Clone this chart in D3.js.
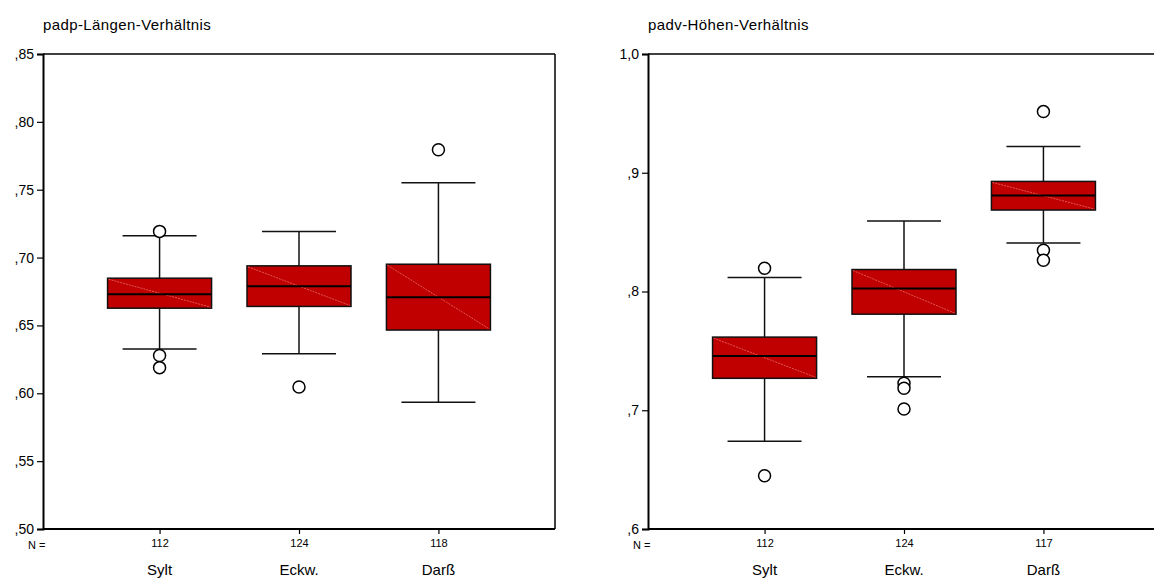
<!DOCTYPE html>
<html>
<head>
<meta charset="utf-8">
<script src="https://cdn.jsdelivr.net/npm/d3@7"></script>
<style>
  body { margin: 0; background: #fff; }
  svg { display: block; font-family: "Liberation Sans", Arial, sans-serif; }
</style>
</head>
<body>
<svg width="1154" height="579"></svg>
<script>
// categories and sample sizes
const categories = ["Sylt", "Eckw.", "Darß"];
const countsLaenge = [112, 124, 118];
const countsHoehe = [112, 124, 117];

// padp-Längen-Verhältnis
const laengeLow = [0.6326, 0.6292, 0.5934];
const laengeQ1 = [0.6627, 0.6640, 0.6466];
const laengeMedian = [0.6730, 0.6789, 0.6708];
const laengeQ3 = [0.6848, 0.6939, 0.6951];
const laengeHigh = [0.7160, 0.7193, 0.7551];
const laengeOutliers = [[0.7193, 0.6279, 0.6189], [0.6046], [0.7794]];
const laengeTicks = [0.50, 0.55, 0.60, 0.65, 0.70, 0.75, 0.80, 0.85];

// padv-Höhen-Verhältnis
const hoeheLow = [0.6740, 0.7282, 0.8408];
const hoeheQ1 = [0.7269, 0.7809, 0.8686];
const hoeheMedian = [0.7456, 0.8025, 0.8809];
const hoeheQ3 = [0.7616, 0.8185, 0.8927];
const hoeheHigh = [0.8118, 0.8593, 0.9221];
const hoeheOutliers = [[0.8196, 0.6448], [0.7227, 0.7185, 0.7011], [0.9515, 0.8347, 0.8263]];
const hoeheTicks = [0.6, 0.7, 0.8, 0.9, 1.0];

document.addEventListener('DOMContentLoaded', () => {
    const svg = d3.select("svg");

    // SPSS style: ",85" / "1,0"
    const fmt2 = v => d3.format(".2f")(v).replace("0.", ",");
    const fmt1 = v => v >= 1 ? d3.format(".1f")(v).replace(".", ",") : d3.format(".1f")(v).replace("0.", ",");

    function drawPanel(opt) {
        const g = svg.append("g");
        const left = opt.left, right = opt.left + 512, top = 54, bottom = 529;

        const x = d3.scalePoint().domain(categories).range([left, right]).padding(0.836);
        const y = d3.scaleLinear().domain(opt.domain).range([bottom, top]);

        // title
        g.append("text")
            .attr("x", left)
            .attr("y", 30)
            .attr("font-size", 15)
            .attr("letter-spacing", 0.4)
            .text(opt.title);

        // frame
        g.append("line").attr("x1", left).attr("x2", right).attr("y1", top).attr("y2", top)
            .attr("stroke", "#000").attr("stroke-width", 1.5);
        g.append("line").attr("x1", right).attr("x2", right).attr("y1", top).attr("y2", bottom)
            .attr("stroke", "#000").attr("stroke-width", 1.5);

        // y axis
        const yAxis = d3.axisLeft(y).tickValues(opt.ticks).tickFormat(opt.fmt).tickSize(6).tickPadding(3);
        const ya = g.append("g").attr("transform", `translate(${left},0)`).call(yAxis);
        ya.select(".domain").attr("stroke-width", 2);
        ya.selectAll(".tick line").attr("stroke-width", 1.2);
        ya.selectAll("text").attr("font-size", 14).attr("font-family", "Liberation Sans, Arial, sans-serif").attr("fill", "#000");

        // x axis (N counts as tick labels)
        const xAxis = d3.axisBottom(x).tickSize(5).tickSizeOuter(0).tickPadding(5)
            .tickFormat((d, i) => opt.counts[i]);
        const xa = g.append("g").attr("transform", `translate(0,${bottom})`).call(xAxis);
        xa.select(".domain").attr("stroke-width", 2).attr("d", `M${left},0H${right}`);
        xa.selectAll(".tick line").attr("stroke-width", 1.2);
        xa.selectAll("text").attr("font-size", 11).attr("font-family", "Liberation Sans, Arial, sans-serif").attr("fill", "#000");

        g.append("text")
            .attr("x", left - 15)
            .attr("y", 549)
            .attr("font-size", 11)
            .text("N =");

        // category labels
        g.selectAll(".cat")
            .data(categories)
            .enter().append("text")
            .attr("class", "cat")
            .attr("x", d => x(d))
            .attr("y", 575)
            .attr("text-anchor", "middle")
            .attr("font-size", 15)
            .text(d => d);

        const boxHalf = 52, capHalf = 37;
        const boxes = g.selectAll(".box")
            .data(categories.map((c, i) => ({
                c, low: opt.low[i], q1: opt.q1[i], med: opt.median[i], q3: opt.q3[i], high: opt.high[i], out: opt.outliers[i]
            })))
            .enter().append("g").attr("class", "box");

        // whiskers
        boxes.append("line")
            .attr("x1", d => x(d.c)).attr("x2", d => x(d.c))
            .attr("y1", d => y(d.high)).attr("y2", d => y(d.low))
            .attr("stroke", "#111").attr("stroke-width", 1.5);
        boxes.append("line")
            .attr("x1", d => x(d.c) - capHalf).attr("x2", d => x(d.c) + capHalf)
            .attr("y1", d => y(d.high)).attr("y2", d => y(d.high))
            .attr("stroke", "#111").attr("stroke-width", 1.5);
        boxes.append("line")
            .attr("x1", d => x(d.c) - capHalf).attr("x2", d => x(d.c) + capHalf)
            .attr("y1", d => y(d.low)).attr("y2", d => y(d.low))
            .attr("stroke", "#111").attr("stroke-width", 1.5);

        // box
        boxes.append("rect")
            .attr("x", d => x(d.c) - boxHalf)
            .attr("width", boxHalf * 2)
            .attr("y", d => y(d.q3))
            .attr("height", d => y(d.q1) - y(d.q3))
            .attr("fill", "#c00000")
            .attr("stroke", "#111")
            .attr("stroke-width", 1.5);

        // thin diagonal hatch line inside box
        boxes.append("line")
            .attr("x1", d => x(d.c) - boxHalf + 1).attr("y1", d => y(d.q3) + 1)
            .attr("x2", d => x(d.c) + boxHalf - 1).attr("y2", d => y(d.q1) - 1)
            .attr("stroke", "#f07a7a").attr("stroke-width", 0.7)
            .attr("stroke-dasharray", "2,1");

        // median
        boxes.append("line")
            .attr("x1", d => x(d.c) - boxHalf).attr("x2", d => x(d.c) + boxHalf)
            .attr("y1", d => y(d.med)).attr("y2", d => y(d.med))
            .attr("stroke", "#000").attr("stroke-width", 2);

        // outliers
        boxes.selectAll("circle")
            .data(d => d.out.map(v => ({ c: d.c, v })))
            .enter().append("circle")
            .attr("cx", d => x(d.c))
            .attr("cy", d => y(d.v))
            .attr("r", 6)
            .attr("fill", "#fff")
            .attr("stroke", "#000")
            .attr("stroke-width", 1.5);
    }

    drawPanel({
        left: 43, title: "padp-Längen-Verhältnis", domain: [0.5, 0.85], ticks: laengeTicks, fmt: fmt2,
        counts: countsLaenge, low: laengeLow, q1: laengeQ1, median: laengeMedian, q3: laengeQ3,
        high: laengeHigh, outliers: laengeOutliers
    });

    drawPanel({
        left: 648, title: "padv-Höhen-Verhältnis", domain: [0.6, 1.0], ticks: hoeheTicks, fmt: fmt1,
        counts: countsHoehe, low: hoeheLow, q1: hoeheQ1, median: hoeheMedian, q3: hoeheQ3,
        high: hoeheHigh, outliers: hoeheOutliers
    });
});
</script>
</body>
</html>
